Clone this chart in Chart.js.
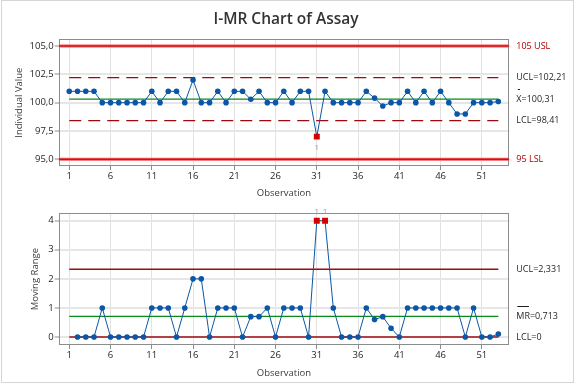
<!DOCTYPE html>
<html><head><meta charset="utf-8">
<script src="https://cdn.jsdelivr.net/npm/chart.js@4"></script>
<style>
html,body{margin:0;padding:0;background:#fff;}
#wrap{position:relative;width:576px;height:384px;overflow:hidden;background:#fff;}
#frame{position:absolute;left:1px;top:0;width:573px;height:383px;border:1px solid #d6d6d6;box-sizing:border-box;pointer-events:none;}
canvas{position:absolute;left:0;}
</style></head>
<body>
<div id="wrap">
<canvas id="c1" width="576" height="200" style="top:0"></canvas>
<canvas id="c2" width="576" height="184" style="top:200px"></canvas>
<div id="frame"></div>
</div>
<script>
// ---------- data ----------
const individual = [101,101,101,101,100,100,100,100,100,100,
  101,100,101,101,100,102,100,100,101,100,
  101,101,100.3,101,100,100,101,100,101,101,
  97,101,100,100,100,100,101,100.4,99.7,100,
  100,101,100,101,100,101,100,99,99,100,
  100,100,100.1];
// moving ranges for observations 2..53
const movingRange = [0,0,0,1,0,0,0,0,0,
  1,1,1,0,1,2,2,0,1,1,
  1,0,0.7,0.7,1,0,1,1,1,0,
  4,4,1,0,0,0,1,0.6,0.7,0.3,
  0,1,1,1,1,1,1,1,0,1,
  0,0,0.1];
const xTicks = [1,6,11,16,21,26,31,36,41,46,51];
const iTicks = [95,97.5,100,102.5,105];
const mrTicks = [0,1,2,3,4];
const iLimits = {USL:105, UCL:102.21, CL:100.31, LCL:98.41, LSL:95};
const mrLimits = {UCL:2.331, CL:0.713, LCL:0};
const iFlags = [31];
const mrFlags = [31,32];

// ---------- styling ----------
const FONT = "'Open Sans','Noto Sans',sans-serif";
const BLUE = '#0b57a6';
const FLAG = '#d40000';
const DRED = '#9e0b0f';
const GREEN = '#0a8a1a';
const XMIN = -0.28, XMAX = 54.33;
const nObs = individual.length;

const iPts = individual.map((v,i)=>({x:i+1,y:v}));
const mrPts = movingRange.map((v,i)=>({x:i+2,y:v}));

function pointStyles(pts, flags){
  return {
    pointStyle: pts.map(p=>flags.includes(p.x)?'rect':'circle'),
    pointRadius: pts.map(p=>flags.includes(p.x)?4.2:2.8),
    pointBackgroundColor: pts.map(p=>flags.includes(p.x)?FLAG:BLUE),
    pointBorderWidth:0,
    pointHoverRadius:0
  };
}
function seg(x0,x1,y,color,width,dash){
  return {data:[{x:x0,y:y},{x:x1,y:y}], borderColor:color, borderWidth:width, borderDash:dash||[], pointRadius:0, fill:false};
}

const framePlugin = {
  id:'frame',
  beforeDatasetsDraw(chart){
    const a=chart.chartArea, ctx=chart.ctx;
    ctx.save(); ctx.strokeStyle='#8c8c8c'; ctx.lineWidth=1;
    const l=Math.round(a.left)+0.5, t=Math.round(a.top)+0.5, r=Math.round(a.right)-0.5, b=Math.round(a.bottom)-0.5;
    ctx.strokeRect(l,t,r-l,b-t); ctx.restore();
  }
};
const rightLabels = {
  id:'rightLabels',
  afterDraw(chart, args, opts){
    const ctx=chart.ctx, a=chart.chartArea, ys=chart.scales.y;
    ctx.save(); ctx.font=opts.font; ctx.textBaseline='middle'; ctx.textAlign='left';
    opts.items.forEach(it=>{
      const y=ys.getPixelForValue(it.value), x=a.right+7;
      ctx.fillStyle=it.color; ctx.fillText(it.text, x, y);
      if(it.bar){
        const w=ctx.measureText(it.bar).width;
        ctx.strokeStyle=it.color; ctx.lineWidth=1;
        ctx.beginPath(); ctx.moveTo(x+it.barInset, Math.round(y-10)+0.5); ctx.lineTo(x+w-it.barInset, Math.round(y-10)+0.5); ctx.stroke();
      }
    });
    ctx.restore();
  }
};
const flagLabels = {
  id:'flagLabels',
  afterDatasetsDraw(chart, args, opts){
    const ctx=chart.ctx, meta=chart.getDatasetMeta(0);
    ctx.save(); ctx.font='8px '+FONT; ctx.fillStyle='#9a9a9a'; ctx.textAlign='center'; ctx.textBaseline='middle';
    meta.data.forEach((el,i)=>{
      const p=chart.data.datasets[0].data[i];
      if(opts.flags.includes(p.x)) ctx.fillText('1', el.x, el.y+opts.dy);
    });
    ctx.restore();
  }
};
const titlePlugin = {
  id:'titleText',
  afterDraw(chart, args, opts){
    if(!opts.text) return;
    const ctx=chart.ctx; ctx.save();
    ctx.font='600 15.5px '+FONT; ctx.fillStyle='#333'; ctx.textAlign='center'; ctx.textBaseline='middle';
    ctx.fillText(opts.text, 286, 20); ctx.restore();
  }
};

function xScale(height, titlePad){
  return {
    type:'linear', min:XMIN, max:XMAX,
    afterBuildTicks:s=>{ s.ticks = xTicks.map(v=>({value:v})); },
    afterFit:s=>{ s.height=height; },
    ticks:{font:{family:FONT,size:9.5}, color:'#1f1f1f', padding:1, autoSkip:false, maxRotation:0, callback:v=>String(v)},
    grid:{color:'#e2e2e2', lineWidth:1, tickLength:4, tickColor:'#8c8c8c', tickWidth:1},
    border:{display:false},
    title:{display:true, text:'Observation', font:{family:FONT,size:9.5}, color:'#3a3a3a', padding:{top:0,bottom:titlePad}}
  };
}
function yScale(min,max,ticks,fmt,title,titlePad){
  return {
    type:'linear', min:min, max:max,
    afterBuildTicks:s=>{ s.ticks = ticks.map(v=>({value:v})); },
    afterFit:s=>{ s.width=58.7; },
    ticks:{font:{family:FONT,size:9.5}, color:'#1f1f1f', padding:1, autoSkip:false, callback:fmt},
    grid:{color:'#e6e6e6', lineWidth:2, tickLength:4, tickColor:'#8c8c8c', tickWidth:1},
    border:{display:false},
    title:{display:true, text:title, font:{family:FONT,size:9.5}, color:'#3a3a3a', padding:{top:titlePad,bottom:0}}
  };
}

// ---------- I chart ----------
new Chart(document.getElementById('c1'), {
  type:'line',
  data:{datasets:[
    Object.assign({data:iPts, borderColor:BLUE, borderWidth:1, fill:false, tension:0}, pointStyles(iPts,iFlags)),
    seg(1,nObs,iLimits.CL,GREEN,1.3),
    seg(1,nObs,iLimits.UCL,DRED,1.4,[12,7]),
    seg(1,nObs,iLimits.LCL,DRED,1.4,[12,7]),
    seg(XMIN,XMAX,iLimits.USL,'#c80000',1),
    seg(XMIN,XMAX,iLimits.LSL,'#c80000',1),
    seg(XMIN,XMAX,iLimits.USL,'#ef5656',3),
    seg(XMIN,XMAX,iLimits.LSL,'#ef5656',3)
  ]},
  options:{
    responsive:false, animation:false, events:[],
    layout:{padding:{left:0,right:66.7,top:39.3,bottom:0}},
    plugins:{legend:{display:false}, tooltip:{enabled:false},
      titleText:{text:'I-MR Chart of Assay'},
      flagLabels:{flags:iFlags, dy:11},
      rightLabels:{font:'9px '+FONT, items:[
        {value:iLimits.USL, text:'105 USL', color:'#b00000'},
        {value:iLimits.UCL, text:'UCL=102,21', color:'#1f1f1f'},
        {value:iLimits.CL, text:'X=100,31', color:'#1f1f1f', bar:'X', barInset:1.5},
        {value:iLimits.LCL, text:'LCL=98,41', color:'#1f1f1f'},
        {value:iLimits.LSL, text:'95 LSL', color:'#b00000'}
      ]}},
    scales:{
      x:xScale(34,1.5),
      y:yScale(94.41,105.59,iTicks,v=>v.toFixed(1).replace('.',','),'Individual Value',14)
    }
  },
  plugins:[framePlugin,rightLabels,flagLabels,titlePlugin]
});

// ---------- MR chart ----------
new Chart(document.getElementById('c2'), {
  type:'line',
  data:{datasets:[
    Object.assign({data:mrPts, borderColor:BLUE, borderWidth:1, fill:false, tension:0}, pointStyles(mrPts,mrFlags)),
    seg(1,nObs,mrLimits.CL,GREEN,1.3),
    seg(1,nObs,mrLimits.UCL,DRED,1.3),
    seg(1,nObs,mrLimits.LCL,DRED,1.3)
  ]},
  options:{
    responsive:false, animation:false, events:[],
    layout:{padding:{left:0,right:66.7,top:13.3,bottom:0}},
    plugins:{legend:{display:false}, tooltip:{enabled:false},
      flagLabels:{flags:mrFlags, dy:-9},
      rightLabels:{font:'9px '+FONT, items:[
        {value:mrLimits.UCL, text:'UCL=2,331', color:'#1f1f1f'},
        {value:mrLimits.CL, text:'MR=0,713', color:'#1f1f1f', bar:'MR', barInset:1},
        {value:mrLimits.LCL, text:'LCL=0', color:'#1f1f1f'}
      ]}},
    scales:{
      x:xScale(39,5.5),
      y:yScale(-0.275,4.255,mrTicks,v=>String(v),'Moving Range',30)
    }
  },
  plugins:[framePlugin,rightLabels,flagLabels]
});
</script>
</body></html>
